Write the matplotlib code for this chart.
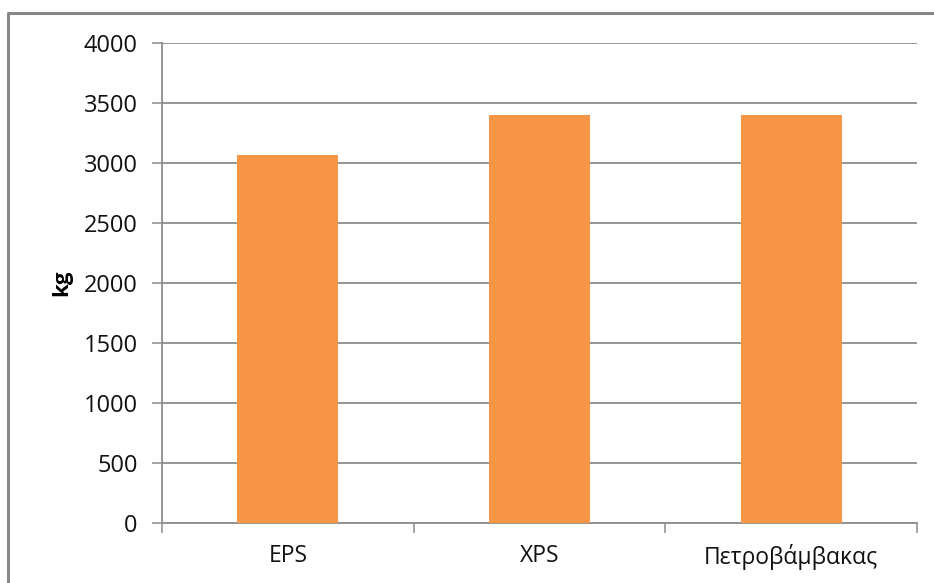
import matplotlib.pyplot as plt
from matplotlib.lines import Line2D

categories = ['EPS', 'XPS', 'Πετροβάμβακας']
values = [3070, 3400, 3400]
yticks = [0, 500, 1000, 1500, 2000, 2500, 3000, 3500, 4000]

plt.rcParams['font.family'] = ['Open Sans', 'DejaVu Sans']

fig = plt.figure(figsize=(9.34, 5.83), dpi=100)
ax = fig.add_axes([162 / 934, 1 - 523 / 583, (917 - 162) / 934, (523 - 43) / 583])

grid_col = '#8c8c8c'
ax.bar(range(len(categories)), values, width=0.4, color='#f79646', zorder=3)

ax.set_xlim(-0.5, len(categories) - 0.5)
ax.set_ylim(0, 4000)
ax.set_yticks(yticks)
ax.set_yticklabels([str(v) for v in yticks])
ax.yaxis.grid(True, color=grid_col, linewidth=1.3, zorder=0)

# category ticks sit between the bars, labels in the middle
ax.set_xticks([i - 0.5 for i in range(len(categories) + 1)])
ax.set_xticklabels([])
ax.set_xticks(range(len(categories)), minor=True)
ax.set_xticklabels(categories, minor=True)
ax.tick_params(axis='x', which='minor', length=0, pad=15, labelsize=16.5, colors='#111111')
ax.tick_params(axis='x', which='major', length=7.5, width=1.1, color=grid_col)
ax.tick_params(axis='y', length=7.5, width=1.1, color=grid_col, pad=10,
               labelsize=17, labelcolor='#111111')

for side in ['top', 'right']:
    ax.spines[side].set_visible(False)
for side in ['left', 'bottom']:
    ax.spines[side].set_color(grid_col)
    ax.spines[side].set_linewidth(1.3)

ax.set_ylabel('kg', fontsize=16, fontweight='bold', labelpad=8)

# outer chart border (left and top edges visible)
fig.add_artist(Line2D([8 / 934, 8 / 934, 1.0], [0.0, 1 - 13 / 583, 1 - 13 / 583],
                      transform=fig.transFigure, color='#888888', linewidth=2.2))

fig.savefig('out.png', dpi=100)
